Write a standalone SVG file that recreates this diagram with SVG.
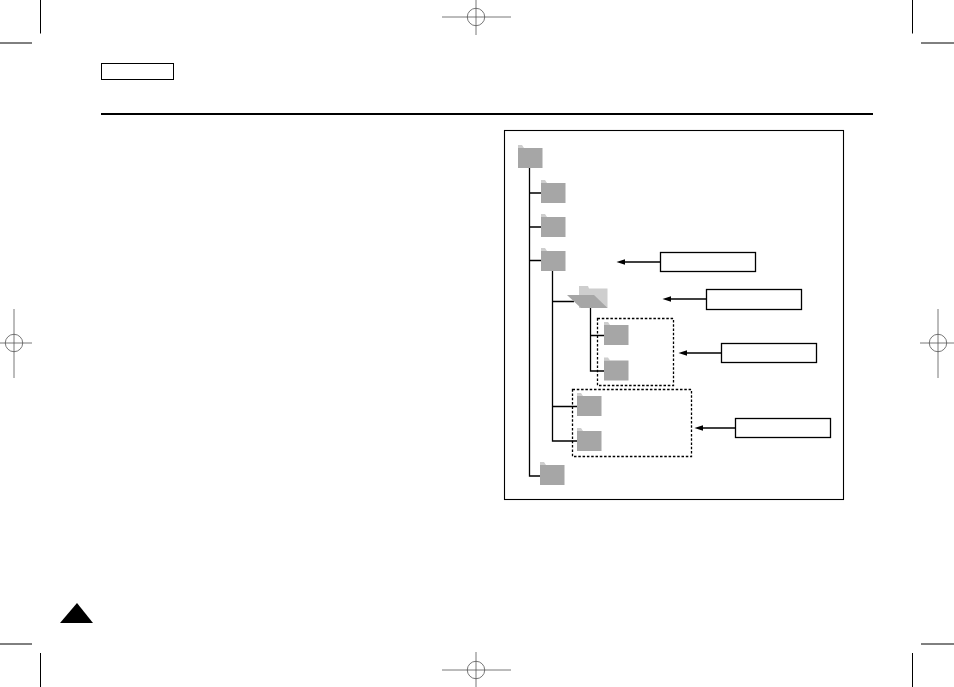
<svg xmlns="http://www.w3.org/2000/svg" width="954" height="687" viewBox="0 0 954 687">
<style>
.crop{stroke:#000;stroke-width:1;fill:none}
.reg{stroke:#555;stroke-width:.8;fill:none}
.tree{stroke:#000;stroke-width:1.3;fill:none}
.box{stroke:#000;stroke-width:1.3;fill:#fff}
.dash{stroke:#000;stroke-width:1.3;fill:none;stroke-dasharray:2.500 1.800}
.lead{stroke:#000;stroke-width:1.300;fill:none}
.body{fill:#a6a6a6}
.tab{fill:#cecece}
</style>
<defs>
<marker id="ah" markerUnits="userSpaceOnUse" markerWidth="9" markerHeight="6" refX="1" refY="3" orient="auto"><path d="M8.500 3L0 .2V5.800Z" fill="#000"/></marker>
<g id="folder"><path class="tab" d="M0 -3H4L6 0H0Z"/><rect class="body" width="24.500" height="20"/></g>
</defs>
<rect width="954" height="687" fill="#fff"/>
<g id="page-marks">
<path class="crop" d="M40.500 0V33.500M0 43H32M912.500 0V33.500M921 43H954M0 644H32M40.500 653V687M921 644H954M912.500 653V687"/>
<path class="reg" d="M442 17H511M476 0V35M442 670H511M476 652V687M0 343H32M14 309V378M920 343H954M938 309V378"/>
<circle class="reg" cx="476" cy="17" r="8.700"/><circle class="reg" cx="476" cy="670" r="8.700"/><circle class="reg" cx="14" cy="343" r="8.700"/><circle class="reg" cx="938" cy="343" r="8.700"/>
<rect x="101.500" y="63.500" width="72" height="16" fill="#fff" stroke="#000" stroke-width="1"/>
<rect x="101" y="113" width="772" height="2" fill="#000"/>
<path d="M77 603L93 623H60Z" fill="#000"/>
</g>
<rect id="frame" x="504.500" y="130.500" width="339" height="369" fill="#fff" stroke="#000" stroke-width="1.100"/>
<g id="connectors">
<path class="tree" d="M529.500 168V476H540M529.500 193H541M529.500 227H541M529.500 260.500H541M552.500 271V441H577M552.500 301.500H574M552.500 406.500H577M590.500 308V371H604M590.500 335.500H604"/>
<rect class="dash" x="597.500" y="318.500" width="76" height="67"/>
<rect class="dash" x="572.500" y="389.500" width="119" height="67"/>
<path class="lead" d="M660 262H624" marker-end="url(#ah)"/>
<path class="lead" d="M706 299H670" marker-end="url(#ah)"/>
<path class="lead" d="M721 353H686" marker-end="url(#ah)"/>
<path class="lead" d="M735 428H702" marker-end="url(#ah)"/>
</g>
<g id="folder-root"><use href="#folder" x="518" y="148"/></g>
<g id="folder-a"><use href="#folder" x="541" y="183"/></g>
<g id="folder-b"><use href="#folder" x="541" y="217"/></g>
<g id="folder-c"><use href="#folder" x="541" y="251"/></g>
<g id="folder-open">
<path class="tab" d="M579 286H588L589 288.500H607.500V308H579Z"/>
<path class="body" d="M567 295H594L607.500 308H581Z"/>
</g>
<g id="folder-d"><use href="#folder" x="604" y="325"/></g>
<g id="folder-e"><use href="#folder" x="604" y="360.500"/></g>
<g id="folder-f"><use href="#folder" x="577" y="396"/></g>
<g id="folder-g"><use href="#folder" x="577" y="431"/></g>
<g id="folder-h"><use href="#folder" x="540" y="465"/></g>
<g id="callout-1"><rect class="box" x="660.500" y="252.500" width="95" height="19"/></g>
<g id="callout-2"><rect class="box" x="706.500" y="289.500" width="95" height="20"/></g>
<g id="callout-3"><rect class="box" x="721.500" y="343.500" width="95" height="19"/></g>
<g id="callout-4"><rect class="box" x="735.500" y="418.500" width="95" height="19"/></g>
</svg>
